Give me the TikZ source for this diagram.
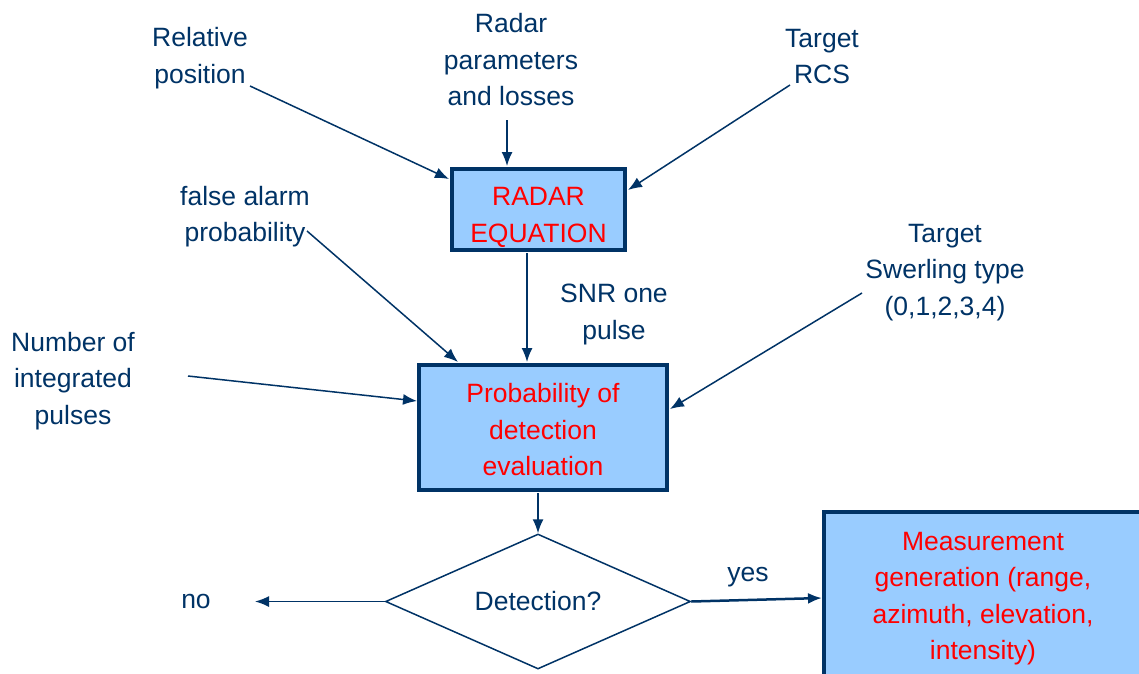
\documentclass[tikz,border=0pt]{standalone}
\usepackage{fontspec}
\setmainfont{Liberation Sans}
\usetikzlibrary{arrows.meta,shapes.geometric,calc}
\definecolor{navy}{RGB}{0,51,102}
\definecolor{boxfill}{RGB}{153,204,255}
\definecolor{redtxt}{RGB}{255,0,0}
\tikzset{
  lbl/.style={align=center,inner sep=0pt,text=navy,font=\fontsize{26.5}{36.5}\selectfont},
  bluebox/.style={draw=navy,line width=4pt,fill=boxfill,align=center,inner sep=0pt,text=redtxt,font=\fontsize{26.5}{36.5}\selectfont},
  conn/.style={draw=navy,line width=1.5pt,-{Latex[length=14pt,width=11pt]}},
}
\begin{document}
\begin{tikzpicture}[x=1pt,y=-1pt]
\clip (0,0) rectangle (1139,673);
\fill[white] (0,0) rectangle (1139,673);
% labels
\node[lbl] (rel) at (200,58) {Relative\\position};
\node[lbl] (rad) at (511,60) {Radar\\parameters\\and losses};
\node[lbl] (rcs) at (822,56.5) {Target\\RCS};
\node[lbl] (fa) at (245,216.5) {false alarm\\probability};
\node[lbl] (snr) at (614,314.5) {SNR one\\pulse};
\node[lbl] (swer) at (945,272.5) {Target\\Swerling type\\(0,1,2,3,4)};
\node[lbl] (num) at (73,381) {Number of\\integrated\\pulses};
\node[lbl] (no) at (196,601.5) {no};
\node[lbl] (yes) at (748,577) {yes};
% boxes
\node[bluebox,minimum width=173pt,minimum height=81pt] (req) at (538.5,209.5) {\rule{0pt}{33.5pt}RADAR\\EQUATION};
\node[bluebox,minimum width=248pt,minimum height=125pt] (prob) at (543,427.5) {\rule{0pt}{23.5pt}Probability of\\detection\\evaluation};
\node[bluebox,minimum width=318pt,minimum height=170pt] (meas) at (983,597) {\rule{0pt}{21.5pt}Measurement\\generation (range,\\azimuth, elevation,\\intensity)};
\node[draw=navy,line width=1.5pt,shape=diamond,aspect=2.26,inner sep=0pt,minimum width=305pt,minimum height=135pt,text=navy,font=\fontsize{26.5}{36.5}\selectfont] (det) at (538,601.5) {Detection?};
% connector end points
\coordinate (relS) at (250,86);
\coordinate (relE) at (449,179);
\coordinate (radS) at (507,120);
\coordinate (radE) at (507,166);
\coordinate (rcsS) at (790,85);
\coordinate (rcsE) at (628,190);
\coordinate (reqS) at (527,253);
\coordinate (reqE) at (527,362);
\coordinate (faS) at (307,231);
\coordinate (faE) at (458,362);
\coordinate (numS) at (188,376);
\coordinate (numE) at (417,401);
\coordinate (swS) at (862,293);
\coordinate (swE) at (670,409);
\coordinate (probS) at (538,493);
\coordinate (measE) at (822,598);
\coordinate (noE) at (255,601.5);
% connectors
\draw[conn] (relS) -- (relE);
\draw[conn] (radS) -- (radE);
\draw[conn] (rcsS) -- (rcsE);
\draw[conn] (reqS) -- (reqE);
\draw[conn] (faS) -- (faE);
\draw[conn] (numS) -- (numE);
\draw[conn] (swS) -- (swE);
\draw[conn] (probS) -- (det.north);
\draw[conn] (det.west) -- (noE);
\draw[conn,line width=2.5pt] (det.east) -- (measE);
\end{tikzpicture}
\end{document}
